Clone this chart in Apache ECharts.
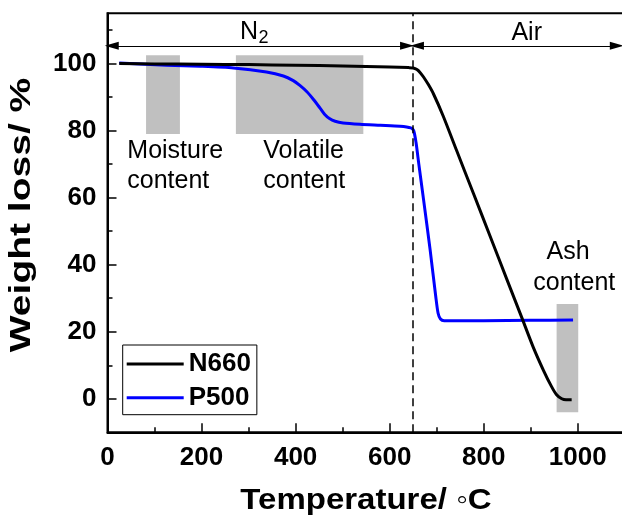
<!DOCTYPE html>
<html>
<head>
<meta charset="utf-8">
<script src="https://cdn.jsdelivr.net/npm/echarts@6/dist/echarts.min.js"></script>
<style>
  html, body { margin: 0; padding: 0; background: #fff; }
  #chart { width: 622px; height: 517px; }
</style>
</head>
<body>
<div id="chart"></div>
<script>
// Thermogravimetric curves: temperature (°C) and remaining weight (%)
const tempN660   = [25, 100, 200, 300, 400, 500, 600, 640, 650, 658, 665, 672, 682, 693, 714, 742, 778, 813, 849, 881, 905, 927, 944, 955, 966, 975, 987];
const weightN660 = [100, 99.9, 99.8, 99.7, 99.5, 99.3, 99.0, 98.8, 98.7, 98.2, 97.3, 96.0, 93.8, 91.0, 84.3, 74.2, 61.3, 48.7, 35.7, 24.2, 15.5, 8.5, 3.7, 1.2, 0, -0.3, -0.3];

const tempP500   = [25, 126, 197, 268, 338, 374, 395, 409, 424, 438, 452, 462, 472, 484, 501, 537, 580, 622, 645, 651, 656, 662, 672, 686, 698, 703, 708, 716, 800, 900, 990];
const weightP500 = [100.2, 99.5, 99.2, 98.7, 97.5, 96.3, 94.9, 93.5, 91.6, 89.3, 86.7, 84.8, 83.6, 82.8, 82.3, 81.9, 81.6, 81.3, 80.8, 80.0, 76.5, 70.0, 59.5, 44.5, 30.5, 25.5, 23.8, 23.3, 23.3, 23.4, 23.5];

// Axis ticks
const xTicks      = [0, 200, 400, 600, 800, 1000];
const xMinorTicks = [100, 300, 500, 700, 900];
const yTicks      = [0, 20, 40, 60, 80, 100];
const yMinorTicks = [10, 30, 50, 70, 90, 110];

// Shaded stages: [temp from, temp to], [weight from, weight to]
const moistureTemp = [82, 154],  moistureWeight = [79, 102.5];
const volatileTemp = [273, 544], volatileWeight = [79, 102.5];
const ashTemp      = [955, 1001], ashWeight     = [-4, 28.3];

// Atmosphere switch and the spans of each gas
const switchTemp = 650;
const spanLevel  = 105.3;
const n2Span     = [9, 637];
const airSpan    = [658, 1083];

const FONT = 'Liberation Sans, Arial, sans-serif';
const zip = (xs, ys) => xs.map((x, i) => [x, ys[i]]);

const chart = echarts.init(document.getElementById('chart'), null, { renderer: 'canvas' });

const xRange = { min: 0, max: 1100 };
const yRange = { min: -10, max: 115 };
const plain = v => String(v);

chart.setOption({
  animation: false,
  backgroundColor: '#fff',
  grid: {
    left: 107.5, top: 13.3, width: 517.3, height: 419,
    show: true, borderColor: '#000', borderWidth: 2,
    outerBoundsMode: 'none'
  },
  xAxis: [
    {
      type: 'value', ...xRange,
      axisLine: { show: true, onZero: false, lineStyle: { color: '#000', width: 2 } },
      axisTick: { show: true, inside: true, length: 9, customValues: xTicks, lineStyle: { color: '#000', width: 1.5 } },
      axisLabel: { customValues: xTicks, formatter: plain, margin: 13, color: '#000', fontSize: 26, fontWeight: 'bold', fontFamily: FONT },
      splitLine: { show: false }
    },
    {
      type: 'value', ...xRange, position: 'bottom',
      axisLine: { show: false, onZero: false },
      axisTick: { show: true, inside: true, length: 5, customValues: xMinorTicks, lineStyle: { color: '#000', width: 1.5 } },
      axisLabel: { show: false, customValues: xMinorTicks },
      splitLine: { show: false }
    }
  ],
  yAxis: [
    {
      type: 'value', ...yRange,
      axisLine: { show: true, onZero: false, lineStyle: { color: '#000', width: 2 } },
      axisTick: { show: true, inside: true, length: 9, customValues: yTicks, lineStyle: { color: '#000', width: 1.5 } },
      axisLabel: { customValues: yTicks, formatter: plain, margin: 11, color: '#000', fontSize: 26, fontWeight: 'bold', fontFamily: FONT },
      splitLine: { show: false }
    },
    {
      type: 'value', ...yRange, position: 'left',
      axisLine: { show: false, onZero: false },
      axisTick: { show: true, inside: true, length: 5, customValues: yMinorTicks, lineStyle: { color: '#000', width: 1.5 } },
      axisLabel: { show: false, customValues: yMinorTicks },
      splitLine: { show: false }
    }
  ],
  legend: {
    data: ['N660', 'P500'],
    orient: 'vertical',
    left: 122.7, top: 345,
    icon: 'rect',
    itemWidth: 57, itemHeight: 3, itemGap: 7.7,
    padding: [6, 6, 4, 4],
    borderColor: '#000', borderWidth: 1,
    textStyle: { fontSize: 26, fontWeight: 'bold', color: '#000', fontFamily: FONT }
  },
  series: [
    {
      name: 'stages', type: 'line', data: [], z: 1, silent: true,
      markArea: {
        silent: true,
        itemStyle: { color: '#c0c0c0' },
        label: { show: false },
        data: [
          [{ xAxis: moistureTemp[0], yAxis: moistureWeight[0] }, { xAxis: moistureTemp[1], yAxis: moistureWeight[1] }],
          [{ xAxis: volatileTemp[0], yAxis: volatileWeight[0] }, { xAxis: volatileTemp[1], yAxis: volatileWeight[1] }],
          [{ xAxis: ashTemp[0], yAxis: ashWeight[0] }, { xAxis: ashTemp[1], yAxis: ashWeight[1] }]
        ]
      }
    },
    {
      name: 'switch', type: 'line', data: [], z: 2, silent: true,
      markLine: {
        silent: true, symbol: 'none', animation: false,
        label: { show: false },
        lineStyle: { color: '#000', width: 1.5, type: [8, 5] },
        data: [[{ coord: [switchTemp, yRange.min] }, { coord: [switchTemp, yRange.max] }]]
      }
    },
    {
      name: 'spans', type: 'line', data: [], z: 2, silent: true,
      markLine: {
        silent: true, symbol: ['triangle', 'triangle'], symbolSize: [8, 14], animation: false,
        label: { show: false },
        lineStyle: { color: '#000', width: 1, type: 'solid' },
        data: [
          [{ coord: [n2Span[0], spanLevel] }, { coord: [n2Span[1], spanLevel] }],
          [{ coord: [airSpan[0], spanLevel] }, { coord: [airSpan[1], spanLevel] }]
        ]
      }
    },
    {
      name: 'N660', type: 'line', data: zip(tempN660, weightN660), z: 4,
      symbol: 'none', smooth: 0.25,
      lineStyle: { color: '#000', width: 3 }, itemStyle: { color: '#000' }
    },
    {
      name: 'P500', type: 'line', data: zip(tempP500, weightP500), z: 3,
      symbol: 'none', smooth: 0.25,
      lineStyle: { color: '#0000ff', width: 3 }, itemStyle: { color: '#0000ff' }
    }
  ],
  graphic: [
    { type: 'text', x: 127.3, y: 166, silent: true,
      style: { text: 'Moisture\ncontent', font: '25px ' + FONT, fill: '#000', lineHeight: 30, verticalAlign: 'middle', align: 'left' } },
    { type: 'text', x: 263.3, y: 166, silent: true,
      style: { text: 'Volatile\ncontent', font: '25px ' + FONT, fill: '#000', lineHeight: 30, verticalAlign: 'middle', align: 'left' } },
    { type: 'text', x: 568, y: 252, silent: true,
      style: { text: 'Ash', font: '25px ' + FONT, fill: '#000', verticalAlign: 'middle', align: 'center' } },
    { type: 'text', x: 574.3, y: 283, silent: true,
      style: { text: 'content', font: '25px ' + FONT, fill: '#000', verticalAlign: 'middle', align: 'center' } },
    { type: 'text', x: 240, y: 32, silent: true,
      style: { text: 'N', font: '25px ' + FONT, fill: '#000', verticalAlign: 'middle', align: 'left' } },
    { type: 'text', x: 258.5, y: 38.5, silent: true,
      style: { text: '2', font: '18px ' + FONT, fill: '#000', verticalAlign: 'middle', align: 'left' } },
    { type: 'text', x: 526.7, y: 33, silent: true,
      style: { text: 'Air', font: '25px ' + FONT, fill: '#000', verticalAlign: 'middle', align: 'center' } },
    { type: 'text', x: 366, y: 501, scaleX: 1.1, silent: true,
      style: { text: 'Temperature/ ◦C', font: 'bold 30px ' + FONT, fill: '#000', verticalAlign: 'middle', align: 'center' } },
    { type: 'text', x: 21.5, y: 215, rotation: Math.PI / 2, scaleX: 1.3, silent: true,
      style: { text: 'Weight loss/ %', font: 'bold 30px ' + FONT, fill: '#000', verticalAlign: 'middle', align: 'center' } }
  ]
});
</script>
</body>
</html>
